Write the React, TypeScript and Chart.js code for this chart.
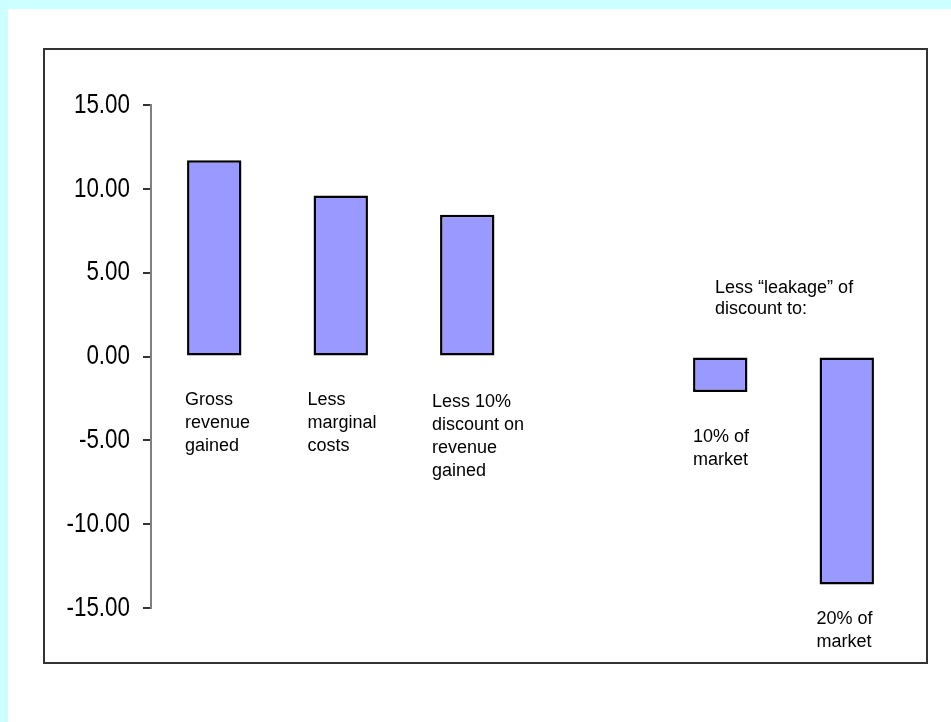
import React, { useEffect, useRef } from "react";
import { Chart, registerables } from "chart.js";

Chart.register(...registerables);

const categories: string[][] = [
  ["Gross", "revenue", "gained"],
  ["Less", "marginal", "costs"],
  ["Less 10%", "discount on", "revenue", "gained"],
  [],
  ["10% of", "market"],
  ["20% of", "market"],
];
const values: (number | null)[] = [11.7, 9.6, 8.45, null, -2.12, -13.6];
const yTicks: number[] = [-15, -10, -5, 0, 5, 10, 15];
const noteText: string[] = ["Less \u201cleakage\u201d of", "discount to:"];
const noteCategory = 4;
const noteValue = 3.8;

// styling / placement tweaks (not data)
const labelDx = [-2, -6, -8, 0, 0, -3];
const labelGap = [48, 48, 50, 0, 50, 39];
const LINE_H = 23;
const LABEL_FONT = '18px "Liberation Sans", Arial, sans-serif';
const TICK_FONT = '28px "Liberation Sans", Arial, sans-serif';
const TICK_SQUEEZE = 0.8;

const decorPlugin = {
  id: "decor",
  beforeDraw(chart: any) {
    const ctx = chart.ctx;
    const w = chart.width;
    const h = chart.height;
    ctx.save();
    ctx.fillStyle = "#ccffff";
    ctx.fillRect(0, 0, w, h);
    ctx.fillStyle = "#ffffff";
    ctx.fillRect(8, 9, w - 8, h - 9);
    ctx.strokeStyle = "#333333";
    ctx.lineWidth = 2;
    ctx.strokeRect(44, 49, 883, 614);
    ctx.restore();
  },
  afterDatasetsDraw(chart: any) {
    const ctx = chart.ctx;
    const meta = chart.getDatasetMeta(0);
    const y = chart.scales.y;
    ctx.save();
    // condensed y tick labels
    ctx.font = TICK_FONT;
    ctx.fillStyle = "#000000";
    ctx.textAlign = "right";
    ctx.textBaseline = "middle";
    yTicks.forEach((t) => {
      const py = y.getPixelForValue(t);
      ctx.save();
      ctx.translate(130, py);
      ctx.scale(TICK_SQUEEZE, 1);
      ctx.fillText(t.toFixed(2), 0, 0);
      ctx.restore();
    });
    ctx.font = LABEL_FONT;
    ctx.textAlign = "left";
    ctx.textBaseline = "alphabetic";
    meta.data.forEach((el: any, i: number) => {
      const v = values[i];
      if (v === null || v === undefined) return;
      const lines = categories[i];
      const left = el.x - el.width / 2 + labelDx[i];
      const end = v >= 0 ? y.getPixelForValue(0) : y.getPixelForValue(v);
      lines.forEach((ln, k) => {
        ctx.fillText(ln, left, end + labelGap[i] + k * LINE_H);
      });
    });
    const nel: any = meta.data[noteCategory];
    const nx = nel.x - nel.width / 2 + 22;
    const ny = y.getPixelForValue(noteValue);
    noteText.forEach((ln, k) => ctx.fillText(ln, nx, ny + k * 21));
    ctx.restore();
  },
};

export default function App() {
  const ref = useRef<HTMLCanvasElement | null>(null);
  useEffect(() => {
    if (!ref.current) return;
    const chart = new Chart(ref.current, {
      type: "bar",
      data: {
        labels: categories.map((c) => c.join(" ")),
        datasets: [
          {
            data: values as any,
            backgroundColor: "#9999ff",
            borderColor: "#000000",
            borderWidth: 2.5,
            borderSkipped: false,
            categoryPercentage: 1,
            barPercentage: 0.43,
          },
        ],
      },
      options: {
        animation: false,
        responsive: false,
        devicePixelRatio: 1,
        layout: { padding: { top: 105, bottom: 114, left: 0, right: 41 } },
        plugins: {
          legend: { display: false },
          tooltip: { enabled: false },
        },
        scales: {
          x: { display: false },
          y: {
            min: -15,
            max: 15,
            afterBuildTicks(scale: any) {
              scale.ticks = yTicks.map((v) => ({ value: v }));
            },
            afterFit(scale: any) {
              scale.width = 151;
            },
            ticks: {
              display: false,
            },
            grid: {
              drawOnChartArea: false,
              drawTicks: true,
              tickLength: 8,
              color: "#333333",
              lineWidth: 2,
            },
            border: { display: true, color: "#808080", width: 2 },
          },
        },
      },
      plugins: [decorPlugin],
    });
    return () => chart.destroy();
  }, []);
  return (
    <div style={{ position: "fixed", left: 0, top: 0, width: 951, height: 722 }}>
      <canvas ref={ref} width={951} height={722} style={{ display: "block" }} />
    </div>
  );
}
